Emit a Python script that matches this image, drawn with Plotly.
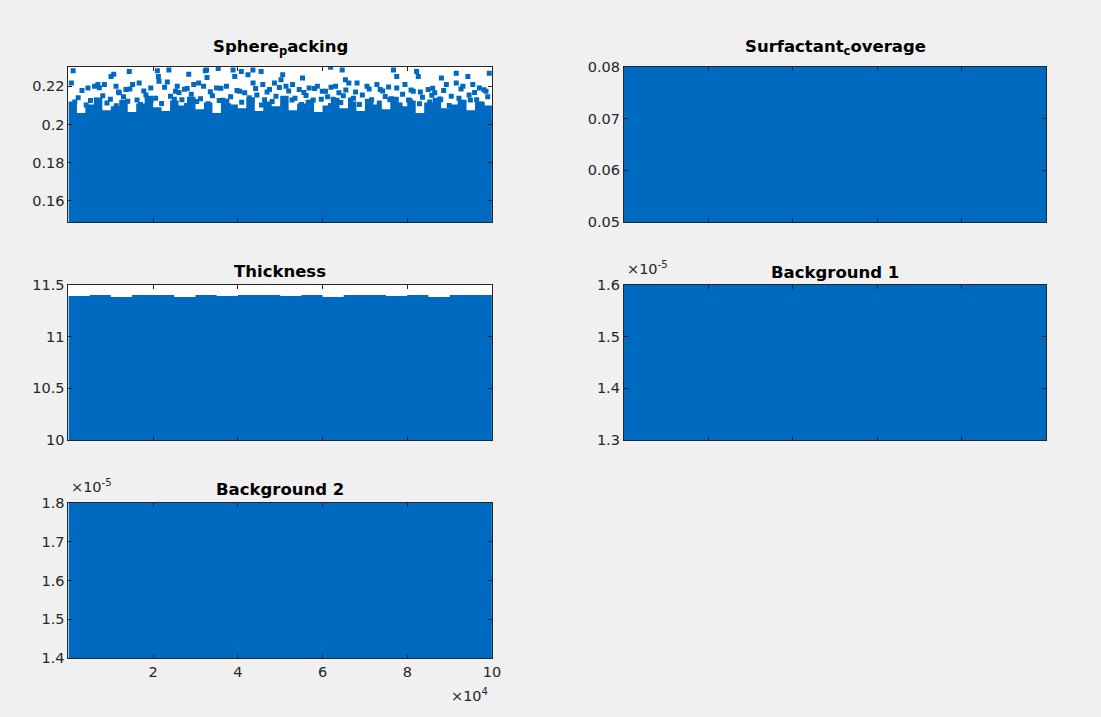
import plotly.graph_objects as go

# ---------------- data ----------------
iterations = [0, 100000]
x_tick_vals = [20000, 40000, 60000, 80000, 100000]
x_tick_text = ["2", "4", "6", "8", "10"]

# Sphere packing: dense core (lower extent + ragged upper edge) and sparse tail samples
sp_edge_x = [0, 2000, 4000, 6000, 8000, 10000, 12000, 14000, 16000, 18000,
             20000, 22000, 24000, 26000, 28000, 30000, 32000, 34000, 36000, 38000,
             40000, 42000, 44000, 46000, 48000, 50000, 52000, 54000, 56000, 58000,
             60000, 62000, 64000, 66000, 68000, 70000, 72000, 74000, 76000, 78000,
             80000, 82000, 84000, 86000, 88000, 90000, 92000, 94000, 96000, 98000, 100000]
sp_edge_top = [0.2085, 0.2120, 0.2060, 0.2105, 0.2140, 0.2075, 0.2095, 0.2130, 0.2065, 0.2110,
               0.2150, 0.2090, 0.2070, 0.2125, 0.2100, 0.2145, 0.2080, 0.2115, 0.2060, 0.2135,
               0.2105, 0.2085, 0.2140, 0.2070, 0.2120, 0.2095, 0.2150, 0.2075, 0.2110, 0.2130,
               0.2065, 0.2100, 0.2140, 0.2085, 0.2120, 0.2070, 0.2135, 0.2105, 0.2080, 0.2145,
               0.2095, 0.2125, 0.2060, 0.2115, 0.2140, 0.2085, 0.2105, 0.2130, 0.2075, 0.2120, 0.2100]
sp_floor = 0.1488

sp_tail_x = [1100, 10070, 10700, 14360, 21000, 21240, 23720, 28400, 32320, 32720,
             700, 4610, 6160, 6960, 8500, 11240, 12010, 13580, 15150, 16700,
             19440, 21380, 23350, 25690, 25290, 28030, 29580, 30750, 31920,
             32600, 35360, 38880, 39270, 40820, 42390, 43560, 45500, 50590, 50190,
             55270, 61900, 64640, 65410,
             34970, 37310, 40440, 41620, 43600, 45900, 47470, 48640, 51360, 52930,
             54500, 56840, 58780, 59950, 63070, 63870, 66210,
             76740, 77520, 82200, 82600, 88060, 91570, 94310, 99370,
             68150, 70490, 72840, 73610, 77520, 79460, 81430, 84940, 86490, 89230,
             91570, 93140, 95480, 97030, 98600,
             2300, 5200, 8100, 9900, 13000, 16200, 18300, 20600, 24100, 26800,
             29000, 31200, 34000, 36500, 38300, 42700, 44500, 46300, 49000, 53500,
             56100, 57800, 61200, 62500, 64900, 67300, 69400, 71600, 74800, 76200,
             78900, 80300, 83600, 85800, 87700, 90400, 92200, 94600, 96400, 99000,
             3200, 7300, 11800, 14500, 17800, 22700, 26100, 27400, 33500, 36000,
             39800, 44200, 46900, 49800, 52000, 55600, 58100, 60700, 62000, 65500,
             67800, 71000, 74200, 75600, 80900, 83100, 86000, 88600, 92700, 95900, 98100,
             1500, 4200, 6700, 9100, 11300, 14000, 17000, 19500, 22000, 25000,
             27900, 30300, 33000, 35600, 37800, 40900, 43400, 45600, 48100, 50700,
             52800, 55000, 57300, 59700, 61900, 64300, 66600, 68700, 70900, 73400,
             75900, 78300, 80700, 82900, 85300, 87900, 89900, 92500, 94900, 97700]
sp_tail_y = [0.2281, 0.2251, 0.2263, 0.2277, 0.2281, 0.2251, 0.2286, 0.2263, 0.2281, 0.2246,
             0.2217, 0.2191, 0.2200, 0.2209, 0.2209, 0.2200, 0.2166, 0.2183, 0.2209, 0.2217,
             0.2191, 0.2226, 0.2222, 0.2200, 0.2174, 0.2188, 0.2209, 0.2217, 0.2200,
             0.2286, 0.2294, 0.2286, 0.2251, 0.2277, 0.2260, 0.2286, 0.2277, 0.2260, 0.2234,
             0.2243, 0.2300, 0.2286, 0.2234,
             0.2191, 0.2200, 0.2174, 0.2166, 0.2217, 0.2209, 0.2183, 0.2217, 0.2200, 0.2209,
             0.2183, 0.2191, 0.2200, 0.2174, 0.2200, 0.2166, 0.2217,
             0.2286, 0.2251, 0.2277, 0.2251, 0.2243, 0.2268, 0.2251, 0.2268,
             0.2217, 0.2200, 0.2209, 0.2183, 0.2191, 0.2209, 0.2174, 0.2183, 0.2166, 0.2209,
             0.2217, 0.2200, 0.2209, 0.2191, 0.2174,
             0.2140, 0.2125, 0.2150, 0.2132, 0.2145, 0.2128, 0.2155, 0.2138, 0.2148, 0.2130,
             0.2158, 0.2135, 0.2150, 0.2127, 0.2145, 0.2140, 0.2155, 0.2130, 0.2148, 0.2137,
             0.2152, 0.2128, 0.2145, 0.2132, 0.2150, 0.2138, 0.2155, 0.2130, 0.2147, 0.2135,
             0.2158, 0.2128, 0.2142, 0.2153, 0.2133, 0.2148, 0.2137, 0.2155, 0.2130, 0.2145,
             0.2178, 0.2192, 0.2170, 0.2186, 0.2175, 0.2195, 0.2168, 0.2184, 0.2172, 0.2190,
             0.2178, 0.2188, 0.2170, 0.2194, 0.2176, 0.2168, 0.2188, 0.2174, 0.2195, 0.2180,
             0.2170, 0.2186, 0.2175, 0.2196, 0.2180, 0.2170, 0.2190, 0.2178, 0.2186, 0.2168, 0.2182,
             0.2118, 0.2102, 0.2128, 0.2112, 0.2098, 0.2122, 0.2105, 0.2126, 0.2110, 0.2132,
             0.2100, 0.2120, 0.2108, 0.2125, 0.2098, 0.2116, 0.2130, 0.2102, 0.2120, 0.2110,
             0.2128, 0.2104, 0.2118, 0.2132, 0.2100, 0.2115, 0.2128, 0.2105, 0.2120, 0.2112,
             0.2130, 0.2102, 0.2124, 0.2108, 0.2118, 0.2130, 0.2100, 0.2116, 0.2128, 0.2106]

# Surfactant coverage: sampled band
sc_low = [0.050, 0.050]
sc_high = [0.080, 0.080]

# Thickness: sampled band (upper edge slightly uneven)
th_edge_x = [0, 5000, 10000, 15000, 20000, 25000, 30000, 35000, 40000, 45000, 50000,
             55000, 60000, 65000, 70000, 75000, 80000, 85000, 90000, 95000, 100000]
th_low = [10.0, 10.0, 10.0, 10.0, 10.0, 10.0, 10.0, 10.0, 10.0, 10.0, 10.0,
          10.0, 10.0, 10.0, 10.0, 10.0, 10.0, 10.0, 10.0, 10.0, 10.0]
th_high = [11.40, 11.39, 11.40, 11.38, 11.40, 11.40, 11.38, 11.40, 11.39, 11.40, 11.40,
           11.39, 11.40, 11.38, 11.40, 11.40, 11.39, 11.40, 11.38, 11.40, 11.40]

# Background 1 and Background 2: sampled bands
bg1_low = [1.3e-5, 1.3e-5]
bg1_high = [1.6e-5, 1.6e-5]
bg2_low = [1.4e-5, 1.4e-5]
bg2_high = [1.8e-5, 1.8e-5]

# y tick definitions
sp_ticks = [0.16, 0.18, 0.20, 0.22]
sp_ticktext = ["0.16", "0.18", "0.2", "0.22"]
sc_ticks = [0.05, 0.06, 0.07, 0.08]
sc_ticktext = ["0.05", "0.06", "0.07", "0.08"]
th_ticks = [10, 10.5, 11, 11.5]
th_ticktext = ["10", "10.5", "11", "11.5"]
bg1_ticks = [1.3e-5, 1.4e-5, 1.5e-5, 1.6e-5]
bg1_ticktext = ["1.3", "1.4", "1.5", "1.6"]
bg2_ticks = [1.4e-5, 1.5e-5, 1.6e-5, 1.7e-5, 1.8e-5]
bg2_ticktext = ["1.4", "1.5", "1.6", "1.7", "1.8"]

# ---------------- styling ----------------
BLUE = "#0069C0"
AXIS = "#262626"
FONT = "DejaVu Sans"
W, H = 1101, 717

# panel boxes in pixels: (left, top, right, bottom)
boxes = {
    1: (69, 60, 496, 219),
    2: (629, 60, 1055, 219),
    3: (69, 283, 496, 442),
    4: (629, 283, 1055, 442),
    5: (69, 506, 496, 665),
}


def dom(b):
    l, t, r, bt = b
    return [l / W, r / W], [1 - bt / H, 1 - t / H]


def band(fig, n, xs, low, high, shape="hv"):
    sfx = "" if n == 1 else str(n)
    fig.add_trace(go.Scatter(
        x=list(xs) + list(xs)[::-1],
        y=list(low) + list(high)[::-1],
        mode="lines", line=dict(width=0, shape=shape),
        fill="toself", fillcolor=BLUE, hoverinfo="skip", showlegend=False,
        xaxis="x" + sfx, yaxis="y" + sfx))


fig = go.Figure()

# Sphere packing: core as filled region with stepped top, tail as square markers
band(fig, 1, sp_edge_x, [sp_floor for _ in sp_edge_x], sp_edge_top, shape="hv")
fig.add_trace(go.Scatter(
    x=sp_tail_x, y=sp_tail_y, mode="markers",
    marker=dict(symbol="square", size=5, color=BLUE, line=dict(width=0)),
    hoverinfo="skip", showlegend=False, xaxis="x", yaxis="y"))

band(fig, 2, iterations, sc_low, sc_high)
band(fig, 3, th_edge_x, th_low, th_high)
band(fig, 4, iterations, bg1_low, bg1_high)
band(fig, 5, iterations, bg2_low, bg2_high)

yranges = {
    1: [0.1488, 0.2303],
    2: [0.05, 0.08],
    3: [10, 11.5],
    4: [1.3e-5, 1.6e-5],
    5: [1.4e-5, 1.8e-5],
}
yticks = {
    1: (sp_ticks, sp_ticktext),
    2: (sc_ticks, sc_ticktext),
    3: (th_ticks, th_ticktext),
    4: (bg1_ticks, bg1_ticktext),
    5: (bg2_ticks, bg2_ticktext),
}

layout = dict(
    width=W, height=H,
    margin=dict(l=0, r=0, t=0, b=0),
    paper_bgcolor="#F0F0F0", plot_bgcolor="white",
    font=dict(family=FONT, size=14.5, color=AXIS),
    showlegend=False,
)

common = dict(showline=True, linecolor=AXIS, linewidth=1, mirror="ticks",
              ticks="inside", ticklen=4, tickcolor=AXIS, tickwidth=1,
              showgrid=False, zeroline=False, fixedrange=True)

for n, b in boxes.items():
    sfx = "" if n == 1 else str(n)
    xd, yd = dom(b)
    layout["xaxis" + sfx] = dict(
        domain=xd, range=[0, 100000], anchor="y" + sfx,
        tickmode="array", tickvals=x_tick_vals, ticktext=x_tick_text,
        showticklabels=(n == 5), **common)
    tv, tt = yticks[n]
    layout["yaxis" + sfx] = dict(
        domain=yd, range=yranges[n], anchor="x" + sfx,
        tickmode="array", tickvals=tv, ticktext=tt, **common)

fig.update_layout(**layout)

titles = {
    1: "Sphere<sub>p</sub>acking",
    2: "Surfactant<sub>c</sub>overage",
    3: "Thickness",
    4: "Background 1",
    5: "Background 2",
}
title_offsets = {1: 20, 2: 20, 3: 13, 4: 12, 5: 13}
for n, text in titles.items():
    l, t, r, bt = boxes[n]
    fig.add_annotation(
        x=(l + r) / 2 / W, y=1 - (t - title_offsets[n]) / H,
        xref="paper", yref="paper", xanchor="center", yanchor="middle",
        text="<b>" + text + "</b>", showarrow=False,
        font=dict(family=FONT, size=16.5, color="black"))

# exponent labels
for n in (4, 5):
    l, t, r, bt = boxes[n]
    fig.add_annotation(
        x=(l + 1) / W, y=1 - (t - 6) / H, xref="paper", yref="paper",
        xanchor="left", yanchor="bottom", showarrow=False,
        text="\u00d710<sup>-5</sup>", font=dict(family=FONT, size=14.5, color=AXIS))
l, t, r, bt = boxes[5]
fig.add_annotation(
    x=(r - 2) / W, y=1 - (bt + 26) / H, xref="paper", yref="paper",
    xanchor="right", yanchor="top", showarrow=False,
    text="\u00d710<sup>4</sup>", font=dict(family=FONT, size=14.5, color=AXIS))

fig.write_html("out.html")
